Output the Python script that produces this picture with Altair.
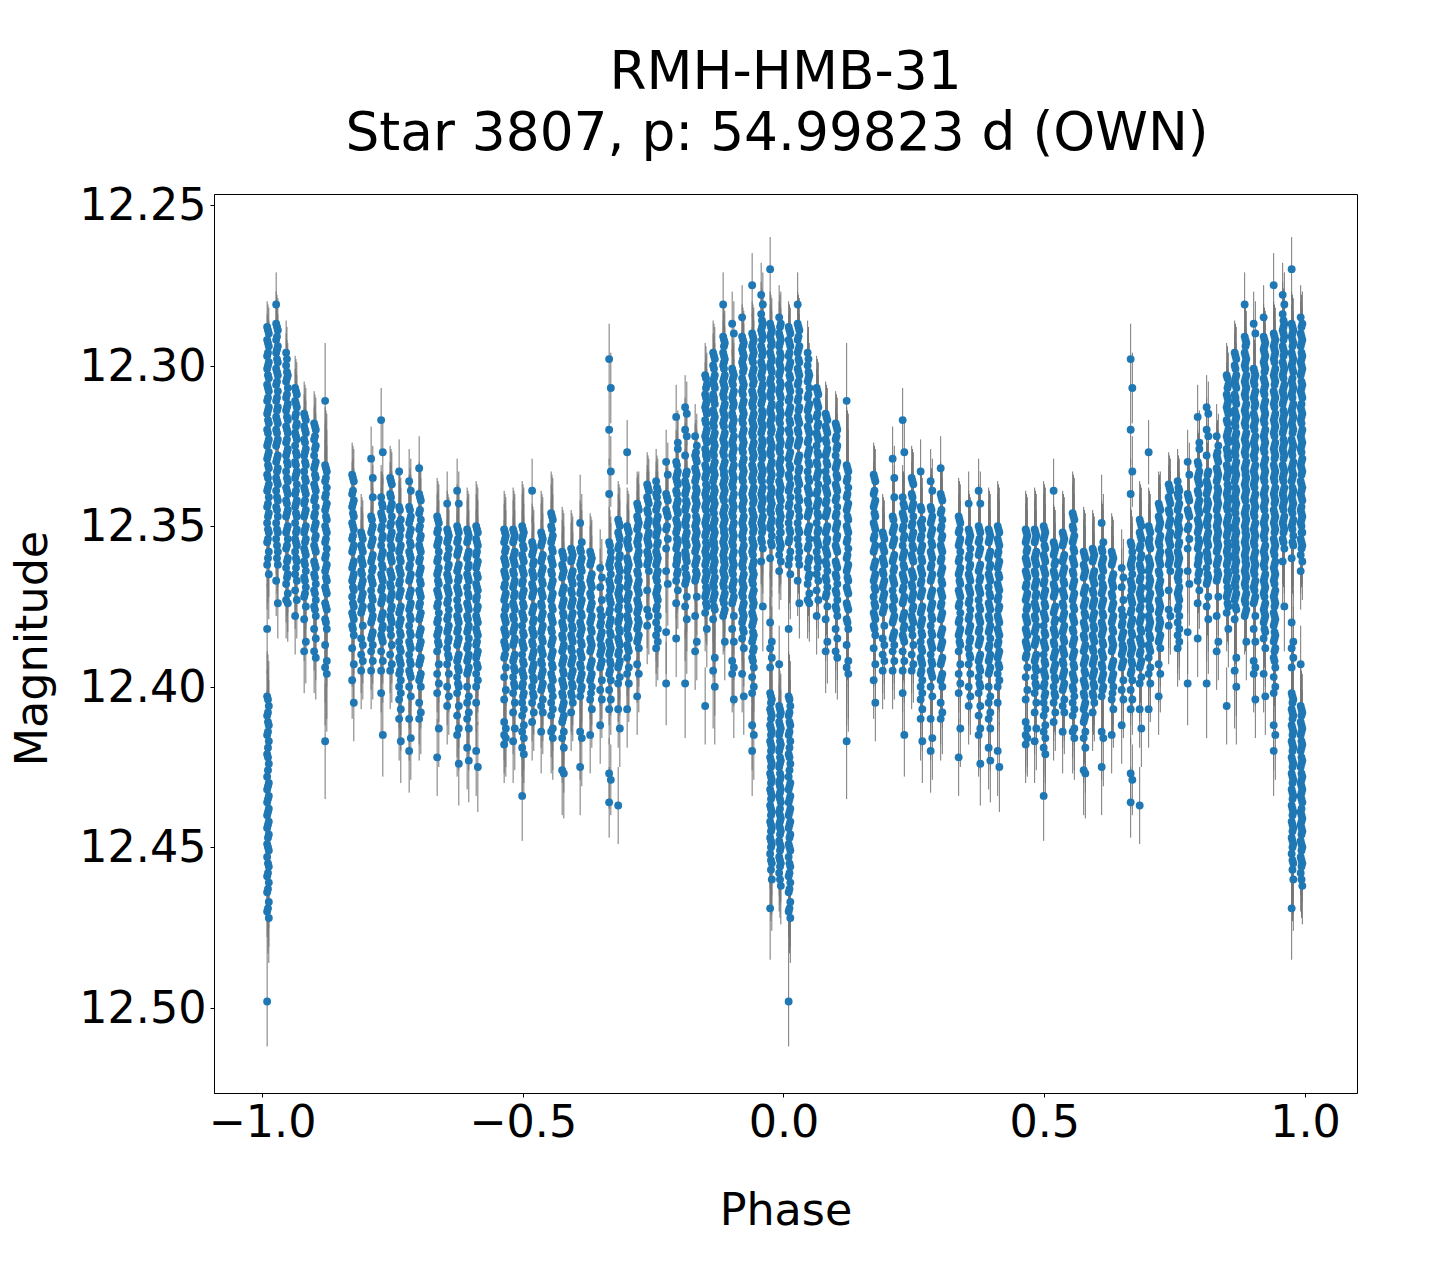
import altair as alt
import pandas as pd

alt.data_transformers.disable_max_rows()

# phase of each observing night (the same night is drawn again at phase + 1)
PHASE = [-0.9885,-0.9712,-0.9521,-0.9348,-0.9175,-0.8984,-0.8773,-0.8255,-0.8082,-0.7891,
         -0.7699,-0.7526,-0.7354,-0.7162,-0.6970,-0.6625,-0.6433,-0.6242,-0.6050,-0.5877,
         -0.5340,-0.5168,-0.4995,-0.4804,-0.4631,-0.4439,-0.4228,-0.4056,-0.3883,-0.3691,
         -0.3499,-0.3327,-0.3154,-0.2982,-0.2790,-0.2598,-0.2426,-0.2234,-0.2042,-0.1870,
         -0.1678,-0.1486,-0.1333,-0.1141,-0.0968,-0.0777,-0.0585,-0.0412,-0.0240,-0.0067]
# magnitude error per night for faint points
ERR = [.014,.011,.012,.012,.013,.013,.018,.012,.012,.012,
       .013,.012,.013,.013,.013,.012,.012,.013,.013,.014,
       .012,.013,.014,.012,.013,.013,.014,.012,.015,.012,
       .012,.011,.012,.012,.012,.012,.012,.013,.012,.017,
       .012,.012,.018,.012,.012,.012,.014,.014,.016,.012]
# magnitude error per night for bright points
ERR_BRIGHT = [.008,.010,.010,.010,.010,.010,.018,.010,.010,.010,
              .010,.010,.010,.010,.010,.010,.010,.010,.010,.010,
              .010,.010,.010,.010,.010,.010,.010,.010,.010,.010,
              .010,.011,.010,.010,.010,.010,.010,.010,.010,.010,
              .010,.010,.010,.010,.010,.010,.010,.010,.010,.010]
BRIGHT_LIMIT = 345
# magnitudes minus 12, in millimag, early part of each night
EARLY = [
 [288,292,297,301,306,311,315,320,325,329,334,339,344,349,355,362,382,403,409,415,421,428,432,436,440,444,449,453,459,464,470,498],
 [281,287,292,296,301,306,311,316,320,325,330,335,339,344,349,354,367],
 [296,300,305,310,314,319,324,328,333,338,342,347,352,357,363,368,373],
 [307,311,316,321,325,330,335,340,344,349,354,358,365,370,378],
 [315,319,323,328,333,338,343,347,352,357,361,366,372,379,389],
 [318,323,328,332,337,342,347,351,356,361,365,370,375,382,389],
 [311,331,336,341,345,350,355,360,364,369,374,379,387,394,417],
 [334,340,344,349,354,358,363,367,372,377,381,388,398],
 [352,356,360,364,369,373,377,385,390,395],
 [329,347,352,356,361,366,370,375,380,385,389,395],
 [317,341,346,351,356,360,365,370,374,379,384,389,395,402],
 [335,340,345,350,354,359,364,368,373,378,382,390,395],
 [333,344,349,354,358,363,368,372,377,381,386,391,396,400,404,410],
 [336,344,349,353,358,363,367,372,376,381,386,390,395,400,410,420],
 [332,340,346,351,356,361,365,370,375,379,384,388,393,398,405,410],
 [347,352,356,361,365,370,375,380,384,389,396,402,422],
 [343,351,355,360,365,369,374,379,383,388,393,400,406],
 [339,350,355,359,364,369,373,378,383,387,392,397,402,409,415],
 [351,355,360,365,369,374,378,383,388,392,396,400,405,410,419],
 [350,354,359,363,368,373,378,382,387,391,396,400,405,420],
 [351,355,360,364,369,373,378,382,386,391,397,404,411,415,418],
 [351,355,360,364,369,374,378,383,387,392,397,402,408,417],
 [350,354,359,363,368,372,377,381,386,390,395,400,405,409,414,419,434],
 [339,355,359,364,368,372,377,382,386,391,395,400,405,411],
 [352,356,361,365,370,374,379,383,388,392,397,401,406,414],
 [346,350,355,360,364,369,373,378,382,387,391,396,400,405,409,414],
 [358,362,366,371,375,380,384,389,393,398,402,407,411,416,426],
 [357,361,366,370,375,379,384,388,393,397,402,408],
 [349,357,362,366,371,375,380,384,389,393,398,403,414,425],
 [358,362,367,371,376,380,385,389,394,398,404,415],
 [363,369,376,381,385,390,394,401,412],
 [298,320,340,355,362,367,372,377,381,386,390,396,401,407,427,436],
 [348,352,357,362,367,371,376,380,385,390,394,399,407,437],
 [327,350,355,360,364,369,373,378,382,387,391,396,407],
 [343,347,351,355,360,364,369,373,377,382,386,393,403],
 [337,341,345,350,354,358,362,370,376,381],
 [336,340,345,349,353,358,362,366,371,376,380,384,388],
 [330,340,345,351,357,364,383,399],
 [316,330,335,339,344,348,352,357,362,367,374,385],
 [313,320,328,336,340,345,349,354,358,363,368,375,399],
 [322,328,332,336,341,345,350,354,358,362,367,378,389],
 [303,309,313,317,322,326,331,335,340,344,349,353,358,362,367,372,377,406],
 [296,300,305,309,314,318,323,327,332,336,341,345,350,354,359,363,368,373,379,395],
 [281,291,296,300,305,309,314,318,323,327,332,337,341,346,350,355,359,364,368,373,378],
 [287,301,305,310,315,319,324,328,333,337,342,346,351,355,360,364,369,374,382,392,396],
 [285,291,295,299,304,308,313,317,322,326,331,335,340,344,349,353,358,362,367,371,376,380,385,396],
 [275,290,294,298,303,308,312,317,321,326,331,335,340,345,349,354,358,363,367,372,377,381,386,391,397,402,412,420],
 [278,284,289,294,299,303,308,312,317,321,326,331,335,340,344,349,354,361],
 [270,287,291,296,300,305,309,314,318,323,327,332,336,341,345,350,360,380,388,394,402,407,412,417,422,427,432,437,442,447,452,469],
 [285,290,294,299,303,308,313,317,322,326,331,336,340,345,349,354,359,364,393,406,411,415,420,425,430,434,439,443,448,453,458],
]
# middle part of each night
MIDDLE = [
 [289,293,296,300,303,307,310,314,317,321,324,328,331,335,338,343,347,351,354,360,404,408,411,414,419,422,426,431,435,439,443,447,450,455,458,463,469],
 [288,291,295,298,302,305,310,314,317,321,324,329,333,336,341,345,351,356,360],
 [298,302,304,309,313,316,320,323,327,330,335,339,343,346,351,356,361,366],
 [308,312,315,319,322,327,331,334,339,343,346,352,355,360,363],
 [316,320,324,327,330,335,339,342,346,351,355,358,362,367,371],
 [319,322,326,331,334,338,341,346,350,354,357,362,366,371,376],
 [332,335,340,344,347,351,354,359,363,366,370,375,380],
 [335,339,343,346,350,353,357,362,366,369,374,378,382],
 [353,357,361,365,368,372,376],
 [348,351,355,360,364,367,372,376,379,384],
 [343,347,350,354,359,362,366,369,373,378,382,385],
 [336,341,344,349,353,356,360,365,369,372,376,379,384],
 [345,350,353,357,360,364,367,371,376,380,383,388,392,395],
 [345,348,352,355,359,362,366,371,375,378,383,387,392,396],
 [341,345,350,354,357,360,364,367,371,374,378,383,387,392,397],
 [348,351,355,360,364,367,371,374,379,383,386],
 [352,354,359,363,366,370,373,378,382,386,390],
 [351,354,358,363,367,370,375,379,382,386,391,394,399],
 [352,354,359,363,366,371,375,379,382,387,391,395],
 [351,355,358,362,365,369,372,376,379,383,386,390,393],
 [352,354,358,361,365,368,372,376,379,383,387,390],
 [352,354,359,361,365,368,372,375,379,382,386,391,394,399],
 [351,353,356,360,364,367,371,374,378,383,387,392,396,399,403],
 [356,358,362,365,369,371,376,380,383,387,390,394,397,402],
 [353,355,360,364,367,371,375,378,382,385,389,393,396,400],
 [347,351,354,357,361,365,368,372,375,379,383,386,390,393,397,401],
 [359,363,365,370,374,377,381,385,388,392,395,399,403,406,410],
 [358,360,365,367,371,374,378,381,385,389,392,396,399,403],
 [358,361,363,368,370,374,377,381,383,386,390,394,397,401],
 [359,361,366,368,372,375,379,382,386,388,393,397,402],
 [378,380,384,387,389,393],
 [356,361,363,368,370,373,376,380,383,387,389,392,395],
 [349,353,356,360,363,366,370,372,375,379,382,386,389,393],
 [351,354,356,361,363,366,368,372,375,379,381,384,388],
 [344,348,350,354,356,359,361,365,368,370,374,376,379,381,385],
 [338,342,346,349,353,355,359,361],
 [338,341,344,348,350,352,356,359,361,365,367,370,372,375],
 [341,346,350],
 [331,334,336,340,343,345,349,351,354,356,360,361,365],
 [334,337,339,342,344,348,350,353,355,359,360,365,367],
 [327,329,333,335,338,340,342,344,347,349,351,353,355,357,361,364,366],
 [304,307,310,312,314,318,321,323,327,328,332,334,337,339,341,343,345,348,350,352,355,357,359,361,364,366,369,371,374],
 [297,301,304,306,310,311,315,317,319,322,324,326,328,331,333,335,338,340,342,344,346,349,351,353,355,356,358,360,362,364,367,369,372,375],
 [292,294,297,299,301,304,306,308,310,313,315,317,319,322,324,326,328,331,333,334,336,338,340,342,345,347,349,351,352,354,356,358,360,361,363,365,367,369,372,374,377],
 [302,304,306,309,311,313,316,318,320,323,325,327,329,332,334,336,338,341,343,345,347,350,352,354,356,359,361,363,365,368,370,373],
 [292,294,296,298,300,302,305,307,309,312,314,316,318,321,323,325,327,330,332,334,336,339,341,343,345,348,350,352,354,357,359,361,363,366,368,370,372,375,377,379,382],
 [291,293,295,297,299,302,304,306,309,311,313,316,318,320,322,325,327,329,332,334,336,339,341,343,346,348,350,352,355,357,359,362,364,366,368,371,373,375,378,380,383,385,389,392],
 [286,288,290,292,295,297,300,302,304,307,309,311,314,316,318,320,323,325,327,329,332,334,336,339,341,343,345,348,350,352,355],
 [288,290,292,294,297,299,301,304,306,308,310,313,315,317,319,321,324,326,328,331,333,335,338,340,342,344,346,349,351,355,403,405,408,410,413,415,418,420,423,425,428,430,433,435,438,440,443,445,448,450,454,457],
 [288,291,293,296,298,300,302,305,307,309,312,314,316,318,321,323,325,327,330,332,334,337,339,341,344,346,348,350,352,355,357,407,409,412,414,417,419,422,424,427,429,431,433,435,438,440,442,444,446,449,451,454,456,460],
]
# magnitudes minus 12, in millimag, late part of each night
LATE = [
 [290,294,299,304,308,313,318,323,327,332,337,341,346,352,358,365,406,412,417,424,430,434,438,442,446,451,456,461,467,472],
 [289,294,299,303,308,313,318,323,328,332,337,342,347,352,358,362,374],
 [303,307,312,317,321,326,331,336,340,345,350,354,360,365,371,374],
 [309,313,318,323,328,333,337,342,347,351,356,361,367,373],
 [317,321,326,331,336,340,345,350,354,359,364,369,375,386],
 [320,325,330,335,339,344,349,353,358,363,368,373,378,385,391],
 [333,338,343,348,352,357,362,367,371,376,382,392,396],
 [336,342,347,351,356,361,365,370,375,379,384,393,405],
 [354,358,362,367,371,375,381,387,392],
 [335,341,350,354,359,363,368,373,378,383,387,392],
 [327,344,348,353,358,363,367,372,377,381,386,392,415],
 [337,343,347,352,357,361,366,371,375,380,387,393],
 [348,351,356,361,365,370,375,379,384,389,393,398,402,407,417],
 [339,347,351,356,360,365,370,374,379,384,388,393,397,403,416],
 [342,348,353,358,363,368,372,377,382,386,391,396,400,408],
 [349,354,358,363,368,372,377,382,387,393,399,413],
 [353,357,362,367,371,376,381,385,391,396,403],
 [343,352,357,362,366,371,376,380,385,390,395,400,406,413,424],
 [353,358,362,367,372,376,381,385,390,394,403,408,413,423],
 [352,356,361,366,370,375,380,384,389,394,398,425],
 [353,357,362,366,371,375,380,384,388,394,401,413,416],
 [353,358,362,367,371,376,381,385,390,395,400,405,413],
 [352,357,361,365,370,375,379,384,388,393,397,402,407,412,416,421],
 [357,361,366,370,375,379,384,389,393,398,403,408],
 [354,359,363,368,372,377,381,386,390,395,399,404,408],
 [348,353,358,362,367,371,376,380,385,389,394,398,403,407,413,416],
 [360,364,369,373,378,382,387,391,396,400,405,409,414,419,427],
 [359,364,368,373,377,382,386,391,395,400,405],
 [355,360,364,369,373,378,382,387,391,396,400,416],
 [360,365,369,374,378,383,387,392,396,400,407],
 [366,373,378,383,388,392,398,404],
 [307,333,358,360,365,369,374,379,384,388,393,398,404,429],
 [350,354,359,364,369,373,378,383,387,392,397,413],
 [352,357,362,367,371,376,380,385,389,394,399],
 [345,349,353,358,362,367,371,375,380,384,388,396],
 [339,343,348,352,356,360,364,378],
 [339,343,347,351,355,360,364,369,373,378,382,386],
 [334,342,347,354,368],
 [324,326,333,337,342,346,350,355,359,364,370],
 [315,322,333,338,343,347,352,356,361,366,372,379],
 [325,330,334,339,343,348,352,356,360,365,372,386],
 [306,311,315,320,324,329,333,338,342,347,351,356,360,365,370,375,382],
 [298,303,307,312,316,321,325,330,334,339,343,348,352,357,361,366,371,376,391,400],
 [293,298,303,307,312,316,321,325,330,335,339,344,348,353,357,362,366,371,376,386],
 [290,303,308,312,317,322,326,331,335,340,344,349,353,358,362,367,372,378,386,394,404],
 [293,297,301,306,311,315,320,324,329,333,338,342,347,351,356,360,365,369,374,378,383,388,403],
 [292,296,301,305,310,315,319,324,328,333,338,342,347,351,356,361,365,370,374,379,384,388,394,400,415],
 [281,287,291,296,301,306,310,315,319,324,328,333,338,342,347,351,357,375],
 [289,293,298,302,307,312,316,320,325,330,334,339,343,348,353,356,386,391,404,409,414,419,424,429,434,439,444,449,455,460],
 [287,292,297,301,306,310,315,320,324,329,333,338,342,347,352,356,361,408,413,418,423,428,432,436,441,445,450,455,462],
]
NIGHT_WIDTH = 0.0016
TITLE_LINES = ["RMH-HMB-31", "Star 3807, p: 54.99823 d (OWN)\u00a0\u200c"]
X_TICKS = [-1.0, -0.5, 0.0, 0.5, 1.0]
Y_TICKS = [12.25, 12.30, 12.35, 12.40, 12.45, 12.50]

rows = []
for p, e, eb, early, middle, late in zip(PHASE, ERR, ERR_BRIGHT, EARLY, MIDDLE, LATE):
    for shift, mags in ((-NIGHT_WIDTH, early), (0, middle), (NIGHT_WIDTH, late)):
        for m in mags:
            mag = 12 + m / 1000
            err = eb if m < BRIGHT_LIMIT else e
            for wrap in (0, 1):
                rows.append({"phase": round(p + shift + wrap, 4), "mag": mag,
                             "lo": round(mag - err, 4), "hi": round(mag + err, 4)})
df = pd.DataFrame(rows)

FONT = "DejaVu Sans"
x_scale = alt.Scale(domain=[-1.092, 1.0997], nice=False, zero=False)
y_scale = alt.Scale(domain=[12.2466, 12.5265], reverse=True, nice=False, zero=False)
x_axis = alt.Axis(values=X_TICKS, format=".1f", grid=False, titlePadding=45)
y_axis = alt.Axis(values=Y_TICKS, format=".2f", grid=False, titleX=-168, titleY=454,
                  titleBaseline="alphabetic", labelOffset=1.5)
x = alt.X("phase:Q", title="Phase", scale=x_scale, axis=x_axis)

bars = alt.Chart(df).mark_rule(color="#777777", strokeWidth=1).encode(
    x=x, y=alt.Y("lo:Q", scale=y_scale, axis=y_axis, title="Magnitude"), y2="hi:Q")
dots = alt.Chart(df).mark_circle(color="#1f77b4", size=62, opacity=1).encode(
    x=x, y=alt.Y("mag:Q", scale=y_scale, axis=y_axis, title="Magnitude"))

chart = (bars + dots).properties(
    width=1143, height=899,
    title=alt.TitleParams(text=TITLE_LINES, font=FONT, fontSize=53.33, fontWeight="normal",
                          color="black", anchor="middle", lineHeight=61, offset=22),
    padding={"left": 206, "top": 186, "right": 75, "bottom": 180},
    autosize=alt.AutoSizeParams(type="none"),
).configure_view(stroke="black", strokeWidth=1).configure_axis(
    labelFont=FONT, titleFont=FONT, labelFontSize=44.44, titleFontSize=44.44,
    titleFontWeight="normal", labelColor="black", titleColor="black",
    domainColor="black", tickColor="black", tickSize=4, tickWidth=1, labelPadding=4,
    labelFlush=False,
)

chart.save("out.html", embed_options={"renderer": "svg", "actions": False})
